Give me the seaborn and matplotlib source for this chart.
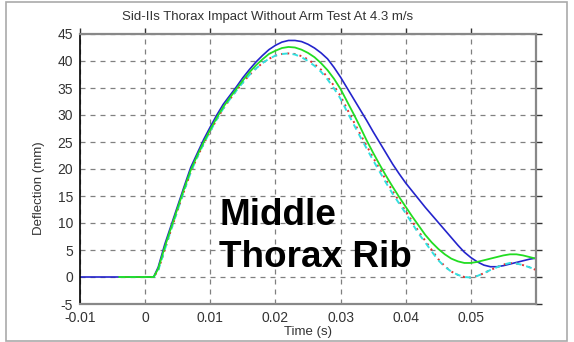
import matplotlib
matplotlib.use("Agg")
import matplotlib.pyplot as plt
import seaborn as sns
import pandas as pd
from matplotlib.patches import Rectangle

# ---- data ----
time_ms = [-10, -4, 0, 1, 1.3, 2, 3, 4, 5, 6, 7, 8, 9, 10,
           11, 12, 13, 14, 15, 16, 17, 18, 19, 20,
           21, 22, 23, 24, 25, 26, 27, 28, 29, 30,
           31, 32, 33, 34, 35, 36, 37, 38, 39, 40,
           41, 42, 43, 44, 45, 46, 47, 48, 49, 50,
           51, 52, 53, 54, 55, 56, 57, 58, 59, 60]

blue = [0, 0, 0, 0, 0, 1.8, 6.0, 9.6, 13.2, 16.8, 20.3, 22.9, 25.5, 27.8,
        30.0, 32.0, 33.6, 35.2, 36.9, 38.4, 39.8, 41.0, 42.1, 42.9,
        43.5, 43.8, 43.8, 43.6, 43.1, 42.4, 41.5, 40.4, 38.8, 37.0,
        35.0, 33.0, 31.0, 29.0, 26.9, 24.9, 22.9, 20.9, 19.1, 17.4,
        15.9, 14.4, 12.9, 11.5, 10.1, 8.7, 7.3, 5.9, 4.6, 3.6,
        2.8, 2.2, 1.9, 1.9, 2.1, 2.4, 2.7, 3.0, 3.3, 3.5]

green = [None, 0, 0, 0, 0, 1.5, 5.5, 9.2, 12.8, 16.4, 19.8, 22.5, 25.0, 27.3,
         29.5, 31.5, 33.2, 34.8, 36.4, 37.9, 39.2, 40.3, 41.3, 41.9,
         42.4, 42.6, 42.5, 42.1, 41.5, 40.7, 39.6, 38.3, 36.7, 34.8,
         32.5, 30.2, 27.8, 25.3, 23.0, 20.8, 18.7, 16.7, 14.8, 13.0,
         11.2, 9.5, 7.8, 6.4, 5.2, 4.2, 3.4, 2.9, 2.6, 2.6,
         2.8, 3.1, 3.4, 3.7, 4.0, 4.2, 4.2, 4.0, 3.7, 3.4]

cyan = [None, 0, 0, 0, 0, 1.2, 5.0, 8.8, 12.4, 16.0, 19.4, 22.2, 24.7, 27.0,
        29.2, 31.2, 32.9, 34.5, 36.0, 37.4, 38.6, 39.6, 40.4, 41.0,
        41.3, 41.4, 41.2, 40.7, 40.0, 39.1, 38.0, 36.6, 34.9, 33.0,
        30.6, 28.3, 26.0, 23.8, 21.6, 19.5, 17.4, 15.4, 13.6, 11.8,
        9.9, 8.0, 6.4, 4.7, 3.1, 1.9, 1.0, 0.4, 0.0, -0.1,
        0.2, 0.7, 1.3, 1.8, 2.3, 2.6, 2.5, 2.2, 1.8, 1.3]

red = [None, 0, 0, 0, 0, 1.2, 5.0, 8.8, 12.4, 16.0, 19.4, 22.2, 24.7, 27.0,
       29.2, 31.2, 32.9, 34.5, 36.0, 37.4, 38.6, 39.6, 40.4, 41.0,
       41.3, 41.4, 41.3, 40.9, 40.3, 39.4, 38.4, 37.0, 35.4, 33.5,
       31.1, 28.8, 26.5, 24.3, 22.1, 20.0, 17.9, 15.9, 14.0, 12.2,
       10.3, 8.4, 6.7, 5.0, 3.3, 2.0, 1.0, 0.4, 0.0, -0.1,
       0.2, 0.7, 1.3, 1.8, 2.3, 2.6, 2.5, 2.2, 1.8, 1.3]

title = "Sid-IIs Thorax Impact Without Arm Test At 4.3 m/s"
xticks = [-0.01, 0, 0.01, 0.02, 0.03, 0.04, 0.05]
xticklabels = ["-0.01", "0", "0.01", "0.02", "0.03", "0.04", "0.05"]
yticks = [-5, 0, 5, 10, 15, 20, 25, 30, 35, 40, 45]
annotation = "Middle\nThorax Rib"

df = pd.DataFrame({"t": [v / 1000 for v in time_ms], "blue": blue,
                   "green": green, "cyan": cyan, "red": red})
rest = df.dropna()

sns.set_style("white")
plt.rcParams["font.family"] = ["Liberation Sans", "DejaVu Sans"]

fig = plt.figure(figsize=(5.74, 3.42), dpi=100)
ax = fig.add_axes([80 / 574, 1 - 304 / 342, (536 - 80) / 574, (304 - 34) / 342])

sns.lineplot(data=df, x="t", y="blue", ax=ax, color="#2424cc", lw=1.2)
sns.lineplot(data=rest, x="t", y="red", ax=ax, color="#e03030", lw=1.4,
             linestyle=(0, (1, 2.2)))
sns.lineplot(data=rest, x="t", y="cyan", ax=ax, color="#33e0e0", lw=1.4,
             linestyle=(0, (3, 2.5)))
sns.lineplot(data=rest, x="t", y="green", ax=ax, color="#22dd22", lw=1.3)

ax.set_xlim(-0.01, 0.06)
ax.set_ylim(-5, 45)
ax.set_xticks(xticks)
ax.set_xticklabels(xticklabels)
ax.set_yticks(yticks)
ax.set_yticklabels([str(v) for v in yticks])

ax.grid(True, color="#808080", linestyle=(0, (4, 4)), lw=0.9)
ax.tick_params(axis="both", labelsize=10, colors="#333333", length=4, width=1,
               direction="out", top=True, right=True, labeltop=False, labelright=False,
               pad=1)
for s in ["top", "right", "bottom"]:
    ax.spines[s].set_color("#888888")
    ax.spines[s].set_linewidth(1.6)
ax.spines["left"].set_color("black")
ax.spines["left"].set_linewidth(1.2)

ax.set_xlabel("Time (s)", fontsize=9.5, color="#333333", labelpad=1)
ax.set_ylabel("Deflection (mm)", fontsize=9.5, color="#333333")
ax.yaxis.set_label_coords((45 - 80) / 456, 0.43)

ax.text((268 - 80) / 456, 1 + 17 / 270, title, transform=ax.transAxes,
        ha="center", va="center", fontsize=9.5, color="#333333")

ax.text(0.0114, 7.5, annotation, ha="left", va="center",
        fontsize=26.6, fontweight="bold", color="black", linespacing=1.28)

fig.patches.append(Rectangle((6 / 574, 1 / 342), 561 / 574, 339 / 342,
                             transform=fig.transFigure, fill=False,
                             edgecolor="#aaaaaa", lw=1.2))

fig.savefig("out.png", dpi=100)
